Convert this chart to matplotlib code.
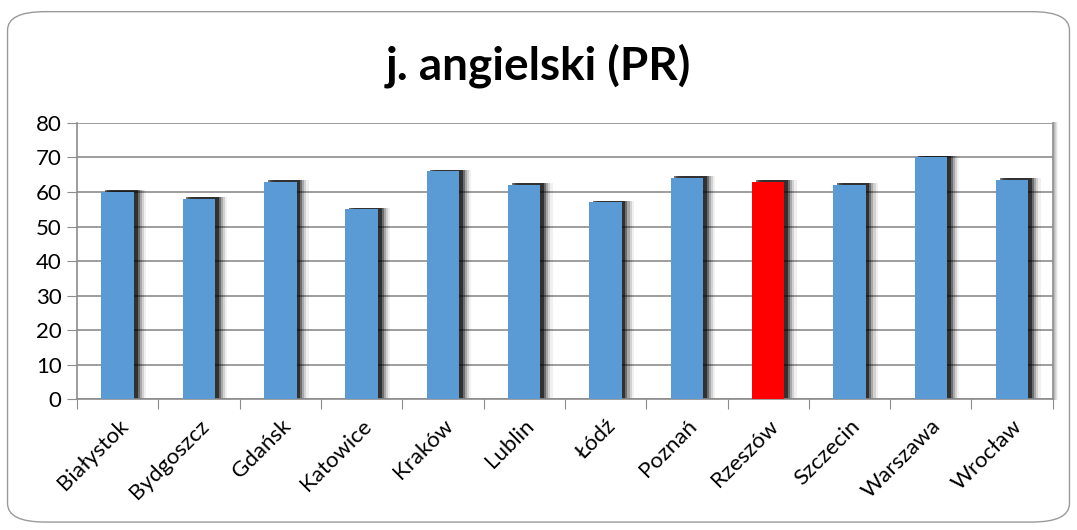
import matplotlib.pyplot as plt
from matplotlib.patches import FancyBboxPatch

cities = ["Białystok", "Bydgoszcz", "Gdańsk", "Katowice", "Kraków", "Lublin",
          "Łódź", "Poznań", "Rzeszów", "Szczecin", "Warszawa", "Wrocław"]
scores = [60, 58, 63, 55, 66, 62, 57, 64, 63, 62, 70, 63.5]
highlight = "Rzeszów"

plt.rcParams["font.family"] = ["Lato", "DejaVu Sans"]

fig = plt.figure(figsize=(10.77, 5.30), dpi=100)
fig.patch.set_facecolor("white")

# rounded outer frame
frame = FancyBboxPatch((0.007, 0.015), 0.986, 0.963,
                       boxstyle="round,pad=0,rounding_size=0.035",
                       transform=fig.transFigure, fill=False,
                       edgecolor="#9a9a9a", linewidth=1.0)
fig.patches.append(frame)

ax = fig.add_axes([0.0715, 0.247, 0.906, 0.521])

x = list(range(len(cities)))
colors = ["#ff0000" if c == highlight else "#5b9bd5" for c in cities]
width = 0.40

# soft dark shadow to the right of each bar
for off, a in [(0.15, 0.06), (0.12, 0.12), (0.095, 0.2), (0.07, 0.35), (0.045, 0.55)]:
    ax.bar([i + off for i in x], [v + 0.5 for v in scores], width=width,
           color="black", alpha=a, linewidth=0, zorder=2)
ax.bar(x, scores, width=width, color=colors, linewidth=0, zorder=3)

ax.set_xlim(-0.5, len(cities) - 0.5)
ax.set_ylim(0, 80)
ax.set_yticks(range(0, 81, 10))
ax.yaxis.grid(True, color="#8c8c8c", linewidth=1.2, zorder=0)
ax.set_axisbelow(True)

ax.set_xticks([i - 0.5 for i in range(len(cities) + 1)], minor=False)
ax.set_xticklabels([])
ax.set_xticks(x, minor=True)
ax.set_xticklabels(cities, minor=True, rotation=45, ha="right",
                   rotation_mode="anchor", fontsize=16)
ax.tick_params(axis="x", which="minor", length=0, pad=12)
ax.tick_params(axis="x", which="major", length=7, color="#8c8c8c", direction="out")
ax.tick_params(axis="y", length=7, color="#8c8c8c", labelsize=16, pad=4)

ax.spines["top"].set_visible(False)
for s in ["left", "bottom", "right"]:
    ax.spines[s].set_color("#8c8c8c")
    ax.spines[s].set_linewidth(1.2)

# blurred shadow along the right edge of the plot area
for k, a in enumerate([0.35, 0.25, 0.15, 0.08]):
    ax.axvline(len(cities) - 0.5 + 0.012 * (k + 1), color="gray", alpha=a,
               linewidth=1.5, clip_on=False, zorder=1)

fig.text(0.5, 0.877, "j. angielski (PR)", ha="center", va="center",
         fontsize=33, fontweight="bold")

fig.savefig("out.png", dpi=100)
